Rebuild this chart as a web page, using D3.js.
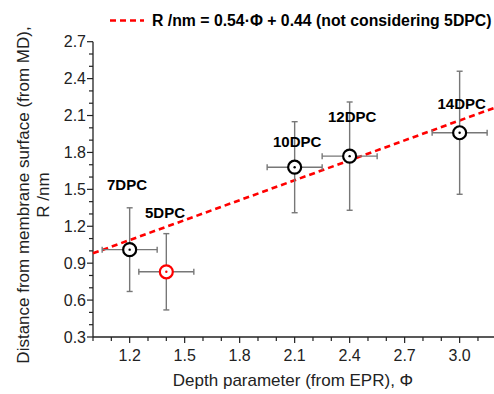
<!DOCTYPE html>
<html><head><meta charset="utf-8">
<script src="https://cdn.jsdelivr.net/npm/d3@7"></script>
<style>body{margin:0;background:#fff}svg{display:block}text{font-family:Arial,"Liberation Sans",sans-serif}</style>
</head><body>
<svg id="c" width="494" height="394"></svg>
<script>
const labels = ["7DPC","5DPC","10DPC","12DPC","14DPC"];
const phi    = [1.2, 1.4, 2.1, 2.4, 3.0];
const R      = [1.01, 0.83, 1.68, 1.77, 1.96];
const xErr   = [0.15, 0.15, 0.15, 0.15, 0.15];
const yLow   = [0.67, 0.52, 1.31, 1.33, 1.46];
const yHigh  = [1.35, 1.14, 2.05, 2.21, 2.46];
const excluded = [false, true, false, false, false];
const fitSlope = 0.54, fitIntercept = 0.44;
const xTickLabels = ["1.2","1.5","1.8","2.1","2.4","2.7","3.0"];
const yTickLabels = ["0.3","0.6","0.9","1.2","1.5","1.8","2.1","2.4","2.7"];

const svg = d3.select("#c");
const x = d3.scaleLinear().domain([1.0, 3.2]).range([93, 496.3]);
const y = d3.scaleLinear().domain([0.3, 2.7]).range([337, 41.7]);

// axes
const xMinor = d3.range(10, 33).map(v => v/10);
const yMinor = d3.range(3, 28).map(v => v/10);
const ax = svg.append("g").attr("transform","translate(0,337)");
ax.append("line").attr("x1",93).attr("x2",494).attr("stroke","#222").attr("stroke-width",1.3);
ax.selectAll(".mt").data(xMinor).join("line")
  .attr("x1",d=>x(d)).attr("x2",d=>x(d)).attr("y1",0)
  .attr("y2",d=>xTickLabels.includes(d.toFixed(1))?6:4).attr("stroke","#222").attr("stroke-width",1.2);
ax.selectAll(".tl").data(xTickLabels).join("text")
  .attr("x",d=>x(+d)).attr("y",24).attr("text-anchor","middle")
  .attr("font-size",16).attr("fill","#222").text(d=>d);

const ay = svg.append("g").attr("transform","translate(93,0)");
ay.append("line").attr("y1",y(0.3)).attr("y2",y(2.7)).attr("stroke","#222").attr("stroke-width",1.3);
ay.selectAll(".mt").data(yMinor).join("line")
  .attr("y1",d=>y(d)).attr("y2",d=>y(d)).attr("x1",0)
  .attr("x2",d=>yTickLabels.includes(d.toFixed(1))?-6:-4).attr("stroke","#222").attr("stroke-width",1.2);
ay.selectAll(".tl").data(yTickLabels).join("text")
  .attr("x",-7).attr("y",d=>y(+d)+5.7).attr("text-anchor","end")
  .attr("font-size",16).attr("fill","#222").text(d=>d);

// axis titles
svg.append("text").attr("x",293).attr("y",386).attr("text-anchor","middle")
  .attr("font-size",17).attr("fill","#222").text("Depth parameter (from EPR), Φ");
const yt = svg.append("g").attr("transform","translate(0,195) rotate(-90)");
yt.append("text").attr("x",0).attr("y",29).attr("text-anchor","middle")
  .attr("font-size",17).attr("fill","#222").text("Distance from membrane surface (from MD),");
yt.append("text").attr("x",0).attr("y",49).attr("text-anchor","middle")
  .attr("font-size",17).attr("fill","#222").text("R /nm");

// fit line
const fx = [1.0, 3.2];
svg.append("line")
  .attr("x1",x(fx[0])).attr("y1",y(fitSlope*fx[0]+fitIntercept))
  .attr("x2",x(fx[1])).attr("y2",y(fitSlope*fx[1]+fitIntercept))
  .attr("stroke","#f00").attr("stroke-width",2.6).attr("stroke-dasharray","6,4");

// data
const pts = phi.map((p,i)=>({p, r:R[i], xe:xErr[i], lo:yLow[i], hi:yHigh[i], ex:excluded[i], lab:labels[i]}));
const eb = svg.append("g").attr("stroke","#777").attr("stroke-width",1.4).attr("fill","none");
pts.forEach(d=>{
  eb.append("line").attr("x1",x(d.p)).attr("x2",x(d.p)).attr("y1",y(d.lo)).attr("y2",y(d.hi));
  eb.append("line").attr("x1",x(d.p)-3).attr("x2",x(d.p)+3).attr("y1",y(d.lo)).attr("y2",y(d.lo));
  eb.append("line").attr("x1",x(d.p)-3).attr("x2",x(d.p)+3).attr("y1",y(d.hi)).attr("y2",y(d.hi));
  eb.append("line").attr("x1",x(d.p-d.xe)).attr("x2",x(d.p+d.xe)).attr("y1",y(d.r)).attr("y2",y(d.r));
  eb.append("line").attr("x1",x(d.p-d.xe)).attr("x2",x(d.p-d.xe)).attr("y1",y(d.r)-3).attr("y2",y(d.r)+3);
  eb.append("line").attr("x1",x(d.p+d.xe)).attr("x2",x(d.p+d.xe)).attr("y1",y(d.r)-3).attr("y2",y(d.r)+3);
});
const mk = svg.append("g");
pts.forEach(d=>{
  const col = d.ex ? "#f00" : "#000";
  mk.append("circle").attr("cx",x(d.p)).attr("cy",y(d.r)).attr("r",6.5)
    .attr("fill","#fff").attr("stroke",col).attr("stroke-width",2.2);
  mk.append("circle").attr("cx",x(d.p)).attr("cy",y(d.r)).attr("r",1.2).attr("fill",col);
});

// point labels
const labPos = {"7DPC":[107,190],"5DPC":[145,218],"10DPC":[273,146.5],"12DPC":[328,122],"14DPC":[437.5,109]};
svg.selectAll(".pl").data(pts).join("text")
  .attr("x",d=>labPos[d.lab][0]).attr("y",d=>labPos[d.lab][1])
  .attr("font-size",15).attr("font-weight","bold").attr("fill","#000").text(d=>d.lab);

// legend
svg.append("line").attr("x1",110).attr("x2",144).attr("y1",20.5).attr("y2",20.5)
  .attr("stroke","#f00").attr("stroke-width",2.6).attr("stroke-dasharray","6,4");
svg.append("text").attr("x",152).attr("y",26).attr("font-size",15.8).attr("font-weight","bold")
  .attr("fill","#000").text("R /nm = " + fitSlope.toFixed(2) + "·Φ + " + fitIntercept.toFixed(2) + " (not considering 5DPC)");
</script>
</body></html>
